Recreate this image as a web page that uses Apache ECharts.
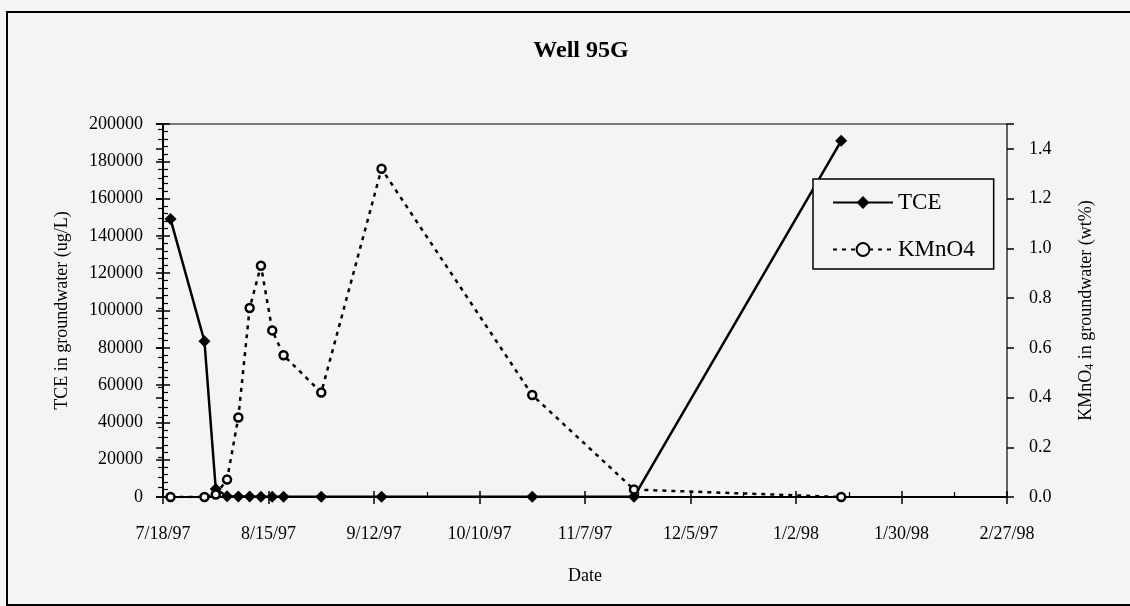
<!DOCTYPE html>
<html>
<head>
<meta charset="utf-8">
<title>Well 95G</title>
<script src="https://cdn.jsdelivr.net/npm/echarts@6/dist/echarts.min.js"></script>
<style>
html,body{margin:0;padding:0;background:#f4f4f4;}
#chart{width:1130px;height:606px;}
</style>
</head>
<body>
<div id="chart"></div>
<script>
// values
var tceDates = ['7/20/97','7/29/97','8/1/97','8/4/97','8/7/97','8/10/97','8/13/97','8/16/97','8/19/97','8/29/97','9/14/97','10/24/97','11/20/97','1/14/98']
var tceValues = [149000,83500,4300,400,300,300,200,200,200,100,100,100,100,191000]
var kmno4Dates = ['7/20/97','7/29/97','8/1/97','8/4/97','8/7/97','8/10/97','8/13/97','8/16/97','8/19/97','8/29/97','9/14/97','10/24/97','11/20/97','1/14/98']
var kmno4Values = [0,0,0.01,0.07,0.32,0.76,0.93,0.67,0.57,0.42,1.32,0.41,0.03,0]
var xTickLabels = ['7/18/97','8/15/97','9/12/97','10/10/97','11/7/97','12/5/97','1/2/98','1/30/98','2/27/98']

var font = 'Liberation Serif'
var start = Date.UTC(1997,6,18)

// days after 7/18/97
function dayOf(s){
    var p = s.split('/')
    return (Date.UTC(1900 + (+p[2]), p[0]-1, +p[1]) - start)/86400000
}

var tceData = tceDates.map(function(d,i){ return [dayOf(d), tceValues[i]] })
var kmno4Data = kmno4Dates.map(function(d,i){ return [dayOf(d), kmno4Values[i]] })

var labelStyle = {color:'#000', fontFamily:font, fontSize:18}
var line = {lineStyle:{color:'#000', width:2}}

// second copy of each axis only draws the outer half of the major ticks
function outerTicks(base){
    return Object.assign({}, base, {
        axisLine:{show:false},
        axisLabel:{show:false},
        axisTick:{show:true, inside:false, length:7, lineStyle:{color:'#000', width:1.5}},
        minorTick:{show:false},
        splitLine:{show:false},
        name:''
    })
}

var xBase = {type:'value', min:0, max:224, interval:28, position:'bottom'}
var leftBase = {type:'value', min:0, max:200000, interval:20000, position:'left'}
var rightBase = {type:'value', min:0, max:1.5, interval:0.2, position:'right'}

var option = {
    backgroundColor:'#f4f4f4',
    animation:false,
    title:{
        text:'Well 95G',
        left:576, top:34, textAlign:'center',
        textStyle:{fontFamily:font, fontWeight:'bold', fontSize:24, color:'#000'}
    },
    grid:{
        left:163, right:123, top:124, bottom:109,
        show:true, borderColor:'#000', borderWidth:1.2, backgroundColor:'transparent'
    },
    legend:{
        orient:'vertical', left:813, top:179,
        padding:[12,19,8,19], itemGap:24, itemWidth:60, itemHeight:16,
        borderColor:'#000', borderWidth:1.5, backgroundColor:'#f4f4f4',
        textStyle:{fontFamily:font, fontSize:23, color:'#000'},
        data:['TCE','KMnO4']
    },
    xAxis:[
        Object.assign({}, xBase, {
            name:'Date', nameLocation:'middle', nameGap:70,
            nameTextStyle:labelStyle,
            axisLine:line,
            axisTick:{show:true, inside:true, length:6, lineStyle:{color:'#000', width:1.5}},
            minorTick:{show:true, splitNumber:2, length:5, lineStyle:{color:'#000', width:1.2}},
            splitLine:{show:false},
            axisLabel:Object.assign({margin:28, formatter:function(v){ return xTickLabels[Math.round(v/28)] }}, labelStyle)
        }),
        outerTicks(xBase)
    ],
    yAxis:[
        Object.assign({}, leftBase, {
            name:'TCE in groundwater (ug/L)', nameLocation:'middle', nameGap:92, nameRotate:90,
            nameTextStyle:labelStyle,
            axisLine:line,
            axisTick:{show:true, inside:true, length:7, lineStyle:{color:'#000', width:1.5}},
            minorTick:{show:true, splitNumber:5, length:5, lineStyle:{color:'#000', width:1.2}},
            splitLine:{show:false},
            // plain numbers, no thousands separator
            axisLabel:Object.assign({margin:20, formatter:function(v){ return String(v) }}, labelStyle)
        }),
        Object.assign({}, rightBase, {
            name:'KMnO{s|4} in groundwater (wt%)', nameLocation:'middle', nameGap:69, nameRotate:90,
            nameTextStyle:Object.assign({rich:{s:{fontFamily:font, fontSize:12, color:'#000', verticalAlign:'bottom', padding:[8,0,0,0]}}}, labelStyle),
            axisLine:line,
            axisTick:{show:true, inside:true, length:7, lineStyle:{color:'#000', width:1.5}},
            minorTick:{show:true, splitNumber:5, length:5, lineStyle:{color:'#000', width:1.2}},
            splitLine:{show:false},
            axisLabel:Object.assign({margin:22, showMaxLabel:false, formatter:function(v){ return v.toFixed(1) }}, labelStyle)
        }),
        outerTicks(leftBase),
        outerTicks(rightBase)
    ],
    graphic:[{
        type:'rect', silent:true, z:-1,
        shape:{x:7, y:12, width:1140, height:593},
        style:{fill:'none', stroke:'#000', lineWidth:2}
    }],
    series:[
        {
            name:'TCE', type:'line', xAxisIndex:0, yAxisIndex:0,
            data:tceData,
            symbol:'diamond', symbolSize:[12,12],
            lineStyle:{color:'#000', width:2.5},
            itemStyle:{color:'#000'}
        },
        {
            name:'KMnO4', type:'line', xAxisIndex:0, yAxisIndex:1,
            data:kmno4Data,
            symbol:'circle', symbolSize:8,
            lineStyle:{color:'#000', width:2.5, type:[4,5]},
            itemStyle:{color:'#f4f4f4', borderColor:'#000', borderWidth:2.5}
        }
    ]
}

var chart = echarts.init(document.getElementById('chart'))
chart.setOption(option)
</script>
</body>
</html>
